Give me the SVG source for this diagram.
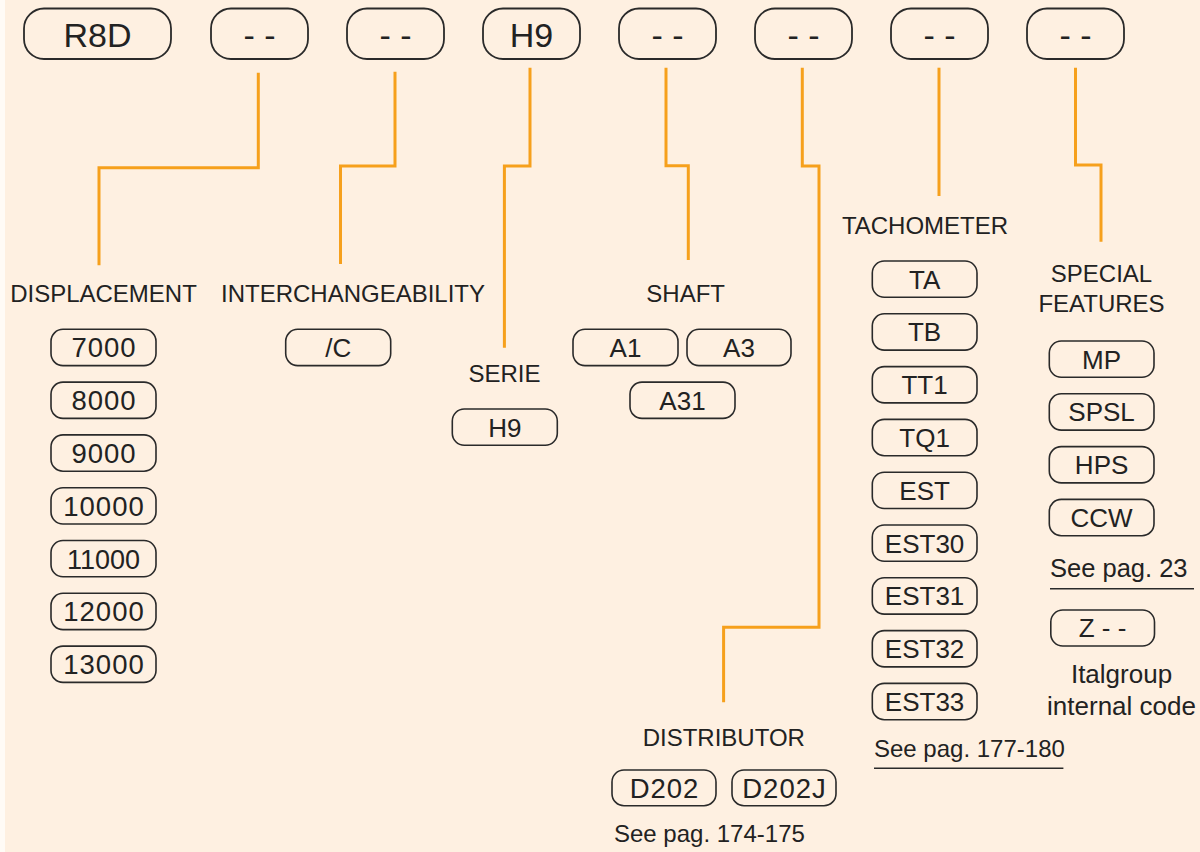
<svg xmlns="http://www.w3.org/2000/svg" width="1200" height="852" viewBox="0 0 1200 852">
<style>
text{font-family:"Liberation Sans",Arial,sans-serif;fill:#222;}
.top rect{fill:none;stroke:#2a2a2a;stroke-width:1.8;}
.top text{font-size:34px;text-anchor:middle;}
.chip rect{fill:none;stroke:#2a2a2a;stroke-width:1.6;}
.chip text{font-size:26px;text-anchor:middle;}
.chip text.num{font-size:27.5px;letter-spacing:1px;}
.chip text.num1{font-size:27px;}
.lbl{font-size:24px;text-anchor:middle;}
.note{font-size:24px;}
.ul{stroke:#2a2a2a;stroke-width:1.5;}
.conn path{fill:none;stroke:#F6A01C;stroke-width:3;stroke-linejoin:miter;}
</style>
<rect x="0" y="0" width="1200" height="852" fill="#FFFBF6"/>
<rect x="5" y="0" width="1195" height="852" fill="#FEF0E1"/>

<g id="connectors" class="conn">
<path d="M258.3,72.7 V167.7 H99 V265.3"/>
<path d="M395,71.7 V166 H340.5 V264"/>
<path d="M530,67.7 V166 H504.4 V347.7"/>
<path d="M666,67.7 V165.7 H688.3 V260"/>
<path d="M802.3,67.7 V166 H819 V627.3 H723.6 V702.3"/>
<path d="M939,67.7 V196"/>
<path d="M1075.5,67.7 V165 H1101 V241.7"/>
</g>

<g id="code-r8d" class="top"><rect x="24" y="8.5" width="147" height="50.5" rx="20"/><text x="97.5" y="46.5">R8D</text></g>
<g id="code-displacement" class="top"><rect x="211" y="8.5" width="97" height="50.5" rx="20"/><text x="259.5" y="47">- -</text></g>
<g id="code-interchangeability" class="top"><rect x="347" y="8.5" width="97" height="50.5" rx="20"/><text x="395.5" y="47">- -</text></g>
<g id="code-serie" class="top"><rect x="483" y="8.5" width="97" height="50.5" rx="20"/><text x="531.5" y="46.5">H9</text></g>
<g id="code-shaft" class="top"><rect x="619" y="8.5" width="97" height="50.5" rx="20"/><text x="667.5" y="47">- -</text></g>
<g id="code-distributor" class="top"><rect x="755" y="8.5" width="97" height="50.5" rx="20"/><text x="803.5" y="47">- -</text></g>
<g id="code-tachometer" class="top"><rect x="891" y="8.5" width="97" height="50.5" rx="20"/><text x="939.5" y="47">- -</text></g>
<g id="code-special" class="top"><rect x="1027" y="8.5" width="97" height="50.5" rx="20"/><text x="1075.5" y="47">- -</text></g>

<g id="displacement">
<text class="lbl" x="103.5" y="302">DISPLACEMENT</text>
<g class="chip"><rect x="51" y="329.3" width="105" height="36.3" rx="12"/><text class="num" x="104" y="357.3">7000</text></g>
<g class="chip"><rect x="51" y="382.1" width="105" height="36.3" rx="12"/><text class="num" x="104" y="410.1">8000</text></g>
<g class="chip"><rect x="51" y="434.9" width="105" height="36.3" rx="12"/><text class="num" x="104" y="462.9">9000</text></g>
<g class="chip"><rect x="51" y="487.7" width="105" height="36.3" rx="12"/><text class="num" x="104" y="515.7">10000</text></g>
<g class="chip"><rect x="51" y="540.5" width="105" height="36.3" rx="12"/><text class="num1" x="103.5" y="568.5">11000</text></g>
<g class="chip"><rect x="51" y="593.3" width="105" height="36.3" rx="12"/><text class="num" x="104" y="621.3">12000</text></g>
<g class="chip"><rect x="51" y="646.1" width="105" height="36.3" rx="12"/><text class="num" x="104" y="674.1">13000</text></g>
</g>

<g id="interchangeability">
<text class="lbl" x="353" y="302">INTERCHANGEABILITY</text>
<g class="chip"><rect x="285.7" y="329.3" width="105" height="36.3" rx="12"/><text x="338.2" y="356.8">/C</text></g>
</g>

<g id="serie">
<text class="lbl" x="504.5" y="382">SERIE</text>
<g class="chip"><rect x="452.3" y="409" width="105" height="36.3" rx="12"/><text x="504.8" y="436.5">H9</text></g>
</g>

<g id="shaft">
<text class="lbl" x="685.7" y="302">SHAFT</text>
<g class="chip"><rect x="573" y="329.3" width="105" height="36.3" rx="12"/><text x="625.5" y="356.8">A1</text></g>
<g class="chip"><rect x="687" y="329.3" width="104" height="36.3" rx="12"/><text x="739" y="356.8">A3</text></g>
<g class="chip"><rect x="630" y="382.1" width="105" height="36.3" rx="12"/><text x="682.5" y="409.6">A31</text></g>
</g>

<g id="distributor">
<text class="lbl" x="723.8" y="745.7">DISTRIBUTOR</text>
<g class="chip"><rect x="612" y="770" width="104" height="35.7" rx="12"/><text class="num" x="664.5" y="797.7">D202</text></g>
<g class="chip"><rect x="732" y="770" width="104" height="35.7" rx="12"/><text class="num" x="784.5" y="797.7">D202J</text></g>
<text class="note" x="614" y="841.7">See pag. 174-175</text>
</g>

<g id="tachometer">
<text class="lbl" x="925" y="234.3">TACHOMETER</text>
<g class="chip"><rect x="872.3" y="261" width="104.7" height="36.3" rx="12"/><text x="924.6" y="288.5">TA</text></g>
<g class="chip"><rect x="872.3" y="313.8" width="104.7" height="36.3" rx="12"/><text x="924.6" y="341.3">TB</text></g>
<g class="chip"><rect x="872.3" y="366.6" width="104.7" height="36.3" rx="12"/><text x="924.6" y="394.1">TT1</text></g>
<g class="chip"><rect x="872.3" y="419.4" width="104.7" height="36.3" rx="12"/><text x="924.6" y="446.9">TQ1</text></g>
<g class="chip"><rect x="872.3" y="472.2" width="104.7" height="36.3" rx="12"/><text x="924.6" y="499.7">EST</text></g>
<g class="chip"><rect x="872.3" y="525" width="104.7" height="36.3" rx="12"/><text x="924.6" y="552.5">EST30</text></g>
<g class="chip"><rect x="872.3" y="577.8" width="104.7" height="36.3" rx="12"/><text x="924.6" y="605.3">EST31</text></g>
<g class="chip"><rect x="872.3" y="630.6" width="104.7" height="36.3" rx="12"/><text x="924.6" y="658.1">EST32</text></g>
<g class="chip"><rect x="872.3" y="683.4" width="104.7" height="36.3" rx="12"/><text x="924.6" y="710.9">EST33</text></g>
<text class="note" x="874" y="756.7">See pag. 177-180</text>
<line class="ul" x1="874" y1="768.3" x2="1063.4" y2="768.3"/>
</g>

<g id="special-features">
<text class="lbl" x="1101.5" y="282">SPECIAL</text>
<text class="lbl" x="1101.5" y="312.3">FEATURES</text>
<g class="chip"><rect x="1049.3" y="341" width="104.7" height="36.3" rx="12"/><text x="1101.6" y="368.5">MP</text></g>
<g class="chip"><rect x="1049.3" y="393.8" width="104.7" height="36.3" rx="12"/><text x="1101.6" y="421.3">SPSL</text></g>
<g class="chip"><rect x="1049.3" y="446.6" width="104.7" height="36.3" rx="12"/><text x="1101.6" y="474.1">HPS</text></g>
<g class="chip"><rect x="1049.3" y="499.4" width="104.7" height="36.3" rx="12"/><text x="1101.6" y="526.9">CCW</text></g>
<text class="note" x="1050" y="576.7" style="font-size:25.5px">See pag. 23</text>
<line class="ul" x1="1050" y1="588.7" x2="1194" y2="588.7"/>
<g class="chip"><rect x="1050.8" y="610" width="103.7" height="36" rx="12"/><text x="1102.6" y="637.3">Z - -</text></g>
<text class="lbl" x="1121.5" y="683.3" style="font-size:26px">Italgroup</text>
<text class="lbl" x="1121.5" y="715" style="font-size:26px">internal code</text>
</g>
</svg>
